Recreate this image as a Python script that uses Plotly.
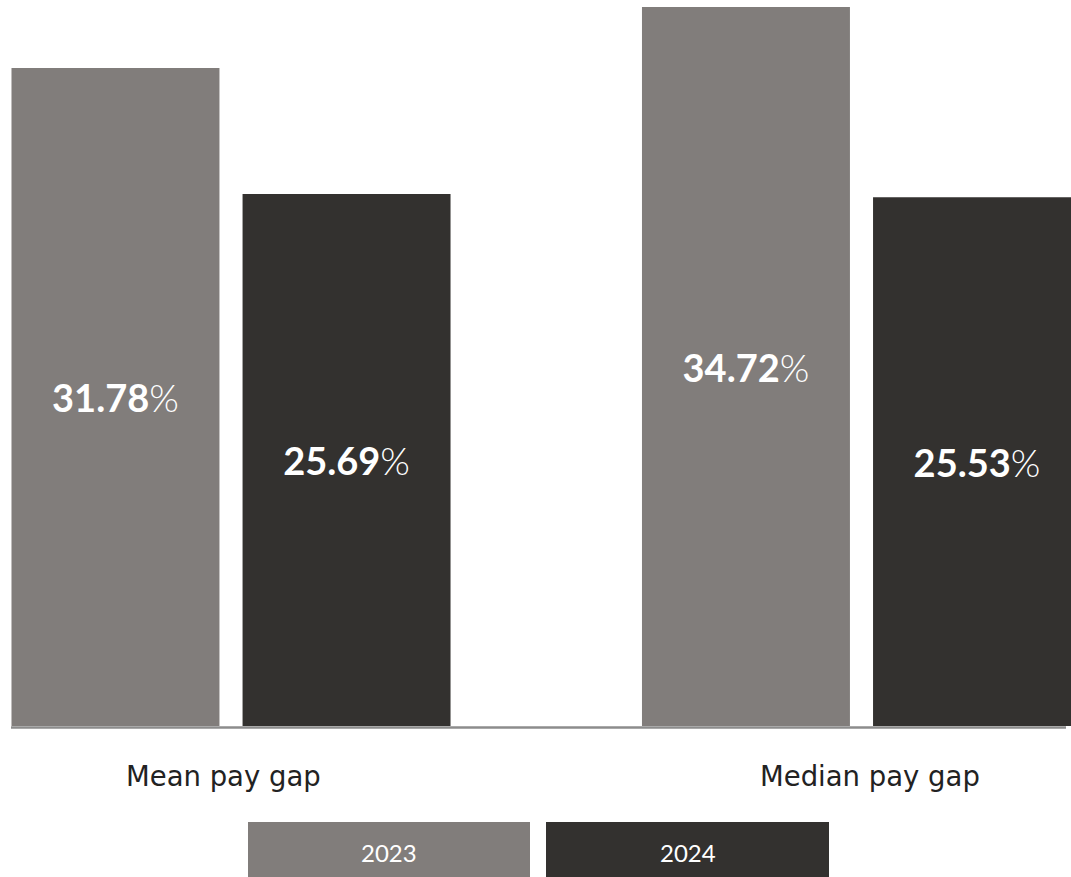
import plotly.graph_objects as go

categories = ["Mean pay gap", "Median pay gap"]
years = ["2023", "2024"]
values_2023 = [31.78, 34.72]
values_2024 = [25.69, 25.53]
colors = {"2023": "#817d7b", "2024": "#33312f"}

FONT = "Lato"
LABEL_FONT = "DejaVu Sans"
W, H = 1071, 877
MT, MB = 0, 151
PLOT_H = H - MT - MB

fig = go.Figure()
for yr, vals in zip(years, [values_2023, values_2024]):
    fig.add_trace(go.Bar(
        x=categories, y=vals, name=yr,
        marker=dict(color=colors[yr], line=dict(width=0)),
        texttemplate="<b>%{y:.2f}</b>%",
        textposition="inside", insidetextanchor="middle", textangle=0,
        textfont=dict(family=FONT, size=38, color="white", weight=300),
        cliponaxis=True,
        hoverinfo="skip",
    ))

# Baseline
fig.add_shape(type="line", xref="paper", yref="paper",
              x0=11 / W, x1=1066 / W, y0=-1.5 / PLOT_H, y1=-1.5 / PLOT_H,
              line=dict(color="#8c8c8c", width=2.5))

# Category labels
label_shift = [-8, 9]
for cat, dx in zip(categories, label_shift):
    fig.add_annotation(x=cat, xref="x", yref="paper", y=(PLOT_H - 776) / PLOT_H,
                       text=cat, showarrow=False, xanchor="center", yanchor="middle",
                       xshift=dx,
                       font=dict(family=LABEL_FONT, size=27.5, color="#222222"))

# Custom legend boxes
legend_boxes = [(248, 530), (546, 829)]
for yr, (x0, x1) in zip(years, legend_boxes):
    y0p = (PLOT_H - 877) / PLOT_H
    y1p = (PLOT_H - 822) / PLOT_H
    fig.add_shape(type="rect", xref="paper", yref="paper",
                  x0=x0 / W, x1=x1 / W, y0=y0p, y1=y1p,
                  fillcolor=colors[yr], line=dict(width=0), layer="above")
    fig.add_annotation(xref="paper", yref="paper",
                       x=(x0 + x1) / 2 / W, y=(PLOT_H - 852) / PLOT_H,
                       text=yr, showarrow=False, xanchor="center", yanchor="middle",
                       font=dict(family=FONT, size=24, color="white"))

fig.update_layout(
    width=W, height=H,
    margin=dict(l=0, r=0, t=MT, b=MB),
    barmode="group", bargap=0.267, bargroupgap=0.1,
    showlegend=False,
    plot_bgcolor="white", paper_bgcolor="white",
    font=dict(family=FONT),
    uniformtext=dict(minsize=10, mode="show"),
)
fig.update_xaxes(range=[-0.3664, 1.3323], showgrid=False, showline=False, zeroline=False,
                 ticks="", showticklabels=False)
fig.update_yaxes(range=[0, 35.06], visible=False, showgrid=False, zeroline=False)

fig.write_html("out.html")
